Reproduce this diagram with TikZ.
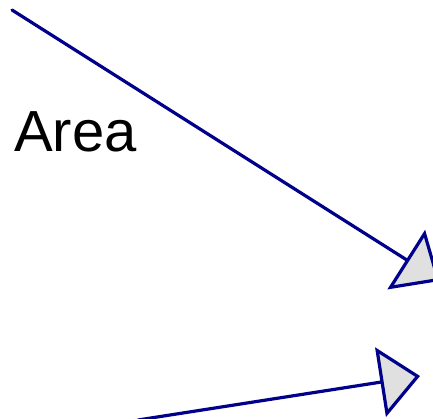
\documentclass[tikz,border=0pt]{standalone}
\usepackage{fontspec}
\setmainfont{Liberation Sans}
\usetikzlibrary{arrows.meta}
\definecolor{linkblue}{RGB}{0,0,139}
\definecolor{headfill}{RGB}{224,224,224}
\tikzset{
  link/.style={draw=linkblue, line width=3.2pt, line cap=round,
    -{Triangle[length=40pt,width=70pt,fill=headfill,line join=miter]}},
}
\begin{document}
\begin{tikzpicture}[x=1pt,y=-1pt]
    \useasboundingbox (0,0) rectangle (433,419);
    \coordinate (src1) at (12,10);
    \coordinate (dst1) at (440,281);
    \coordinate (src2) at (138,420);
    \coordinate (dst2) at (420,376);
    \node[anchor=base west, inner sep=0pt, font=\fontsize{58}{62}\selectfont] (area) at (14,152) {Area};
    \draw[link] (src1) -- (dst1);
    \draw[link] (src2) -- (dst2);
  \end{tikzpicture}
\end{document}
